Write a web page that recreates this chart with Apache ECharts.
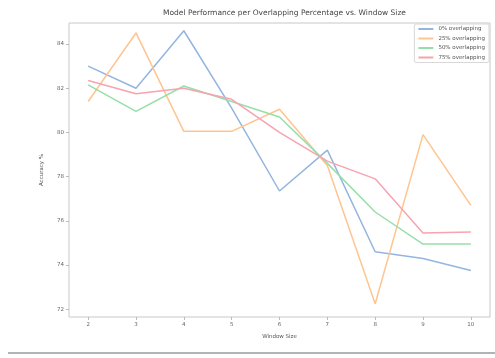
<!DOCTYPE html>
<html>
<head>
<meta charset="utf-8">
<script src="https://cdn.jsdelivr.net/npm/echarts@6/dist/echarts.min.js"></script>
<style>
  html, body { margin: 0; padding: 0; background: #fff; }
  #chart { width: 495px; height: 358px; }
</style>
</head>
<body>
<div id="chart"></div>
<script>
// Window sizes on the x axis
const windowSizes = [2, 3, 4, 5, 6, 7, 8, 9, 10];

// Accuracy (%) per overlap setting
const overlap0 = [83.0, 82.0, 84.6, 81.1, 77.35, 79.2, 74.6, 74.3, 73.75];
const overlap25 = [81.4, 84.5, 80.05, 80.05, 81.05, 78.5, 72.25, 79.9, 76.7];
const overlap50 = [82.15, 80.95, 82.1, 81.4, 80.7, 78.6, 76.4, 74.95, 74.95];
const overlap75 = [82.35, 81.75, 82.0, 81.5, 80.0, 78.7, 77.9, 75.45, 75.5];

const seriesNames = ['0% overlapping', '25% overlapping', '50% overlapping', '75% overlapping'];
const yTicks = [72, 74, 76, 78, 80, 82, 84];

const colors = ['#93b5e0', '#ffc48f', '#97dfa8', '#f7a3b0'];
const allSeries = [overlap0, overlap25, overlap50, overlap75];

const chart = echarts.init(document.getElementById('chart'), null, { renderer: 'canvas' });

chart.setOption({
  animation: false,
  backgroundColor: '#ffffff',
  title: {
    text: 'Model Performance per Overlapping Percentage vs. Window Size',
    left: 279.5,
    textAlign: 'center',
    top: 4,
    textStyle: { fontFamily: 'DejaVu Sans', fontSize: 7.5, fontWeight: 'normal', color: '#444' }
  },
  legend: {
    orient: 'vertical',
    right: 6,
    top: 24,
    itemWidth: 15,
    itemHeight: 2,
    itemGap: 3.5,
    padding: [2, 4, 2, 4],
    borderColor: '#d8d8d8',
    borderWidth: 1,
    borderRadius: 2,
    icon: 'rect',
    textStyle: { fontFamily: 'DejaVu Sans', fontSize: 5.5, color: '#555' },
    data: seriesNames
  },
  grid: {
    left: 69, right: 5, top: 23, bottom: 41,
    show: true, borderColor: '#c8c8c8', borderWidth: 1, containLabel: false
  },
  xAxis: {
    type: 'value',
    min: 1.6,
    max: 10.4,
    name: 'Window Size',
    nameLocation: 'middle',
    nameGap: 17,
    nameTextStyle: { fontFamily: 'DejaVu Sans', fontSize: 5.5, color: '#555' },
    axisLine: { show: false },
    splitLine: { show: false },
    axisTick: { show: true, length: 3, lineStyle: { color: '#bbb' }, customValues: windowSizes },
    axisLabel: { fontFamily: 'DejaVu Sans', fontSize: 5.5, color: '#666', margin: 5, customValues: windowSizes }
  },
  yAxis: {
    type: 'value',
    min: 71.65,
    max: 84.95,
    name: 'Accuracy %',
    nameLocation: 'middle',
    nameGap: 24,
    nameRotate: 90,
    nameTextStyle: { fontFamily: 'DejaVu Sans', fontSize: 5.5, color: '#555' },
    axisLine: { show: false },
    splitLine: { show: false },
    axisTick: { show: true, length: 3, lineStyle: { color: '#bbb' }, customValues: yTicks },
    axisLabel: { fontFamily: 'DejaVu Sans', fontSize: 5.5, color: '#666', margin: 5, customValues: yTicks }
  },
  series: allSeries.map((vals, i) => ({
    name: seriesNames[i],
    type: 'line',
    data: windowSizes.map((x, j) => [x, vals[j]]),
    showSymbol: false,
    symbol: 'none',
    lineStyle: { width: 1.5, color: colors[i] },
    itemStyle: { color: colors[i] },
    z: 2 + i
  })),
  graphic: [{
    type: 'line',
    shape: { x1: 8, y1: 353, x2: 495, y2: 353 },
    style: { stroke: '#9a9a9a', lineWidth: 1.5 }
  }]
});
</script>
</body>
</html>
